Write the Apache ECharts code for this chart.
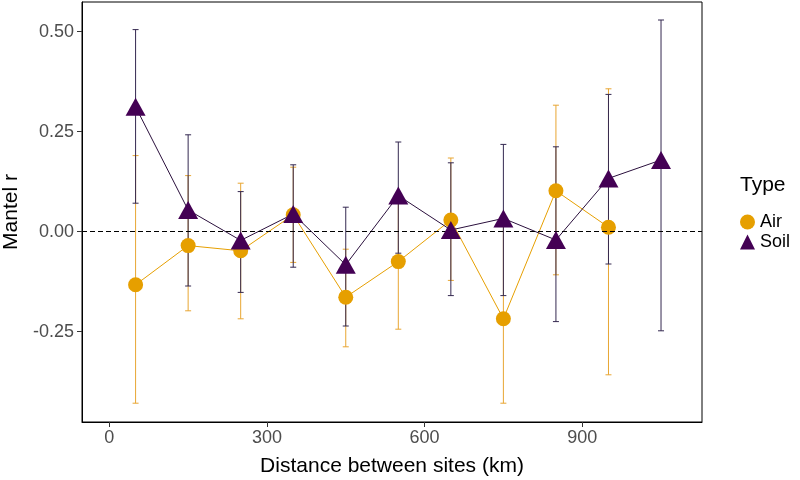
<!DOCTYPE html>
<html>
<head>
<meta charset="utf-8">
<script src="https://cdn.jsdelivr.net/npm/echarts@6/dist/echarts.min.js"></script>
<style>
  html, body { margin: 0; padding: 0; background: #fff; }
  #chart { width: 800px; height: 480px; }
</style>
</head>
<body>
<div id="chart"></div>
<script>
// distance classes (km), bin midpoints
const distance = [50, 150, 250, 350, 450, 550, 650, 750, 850, 950, 1050]

// Air: Mantel r and confidence limits (no value for the last bin)
const airR = [-0.133, -0.035, -0.048, 0.042, -0.164, -0.075, 0.029, -0.218, 0.102, 0.011]
const airLow = [-0.429, -0.198, -0.218, -0.077, -0.288, -0.244, -0.122, -0.429, -0.108, -0.358]
const airHigh = [0.19, 0.14, 0.121, 0.161, -0.044, 0.081, 0.184, 0.03, 0.316, 0.357]

// Soil
const soilR = [0.312, 0.054, -0.022, 0.044, -0.083, 0.09, 0.004, 0.033, -0.021, 0.133, 0.179]
const soilLow = [0.071, -0.136, -0.152, -0.089, -0.236, -0.054, -0.16, -0.16, -0.225, -0.081, -0.248]
const soilHigh = [0.505, 0.242, 0.1, 0.167, 0.061, 0.224, 0.172, 0.218, 0.212, 0.343, 0.529]

const xTicks = [0, 300, 600, 900]
const yTicks = [-0.25, 0, 0.25, 0.5]

const airColor = '#E69F00'
const soilColor = '#440154'
const font = 'Liberation Sans, Arial, sans-serif'

function pairs(values) {
  return values.map((v, i) => [distance[i], v])
}

function errorBars(name, low, high, color) {
  return {
    name: name,
    type: 'custom',
    z: 2,
    silent: true,
    data: low.map((l, i) => [distance[i], l, high[i]]),
    renderItem(params, api) {
      const x = api.value(0)
      const p1 = api.coord([x, api.value(1)])
      const p2 = api.coord([x, api.value(2)])
      const cap = 3
      const style = { stroke: color, lineWidth: 1 }
      return {
        type: 'group',
        children: [
          { type: 'line', shape: { x1: p1[0], y1: p1[1], x2: p2[0], y2: p2[1] }, style },
          { type: 'line', shape: { x1: p1[0] - cap, y1: p1[1], x2: p1[0] + cap, y2: p1[1] }, style },
          { type: 'line', shape: { x1: p2[0] - cap, y1: p2[1], x2: p2[0] + cap, y2: p2[1] }, style }
        ]
      }
    }
  }
}

const chart = echarts.init(document.getElementById('chart'), null, { renderer: 'canvas' })

chart.setOption({
  animation: false,
  textStyle: { fontFamily: font },
  grid: {
    left: 82,
    right: 98,
    top: 2,
    bottom: 58,
    show: true,
    borderColor: '#000',
    borderWidth: 1,
    containLabel: false,
    outerBoundsMode: 'none'
  },
  graphic: [{
    type: 'text',
    left: 740,
    top: 175,
    style: { text: 'Type', font: '21px ' + font, fill: '#000' }
  }],
  legend: {
    data: ['Air', 'Soil'],
    orient: 'vertical',
    left: 740,
    top: 213,
    padding: 0,
    itemGap: 2,
    itemWidth: 15,
    itemHeight: 15,
    textStyle: { fontSize: 18, color: '#000', fontFamily: font }
  },
  xAxis: {
    type: 'value',
    min: -52,
    max: 1128,
    name: 'Distance between sites (km)',
    nameLocation: 'middle',
    nameGap: 34,
    nameTextStyle: { fontSize: 21, color: '#000' },
    axisLine: { onZero: false, lineStyle: { color: '#000', width: 1 } },
    axisTick: { customValues: xTicks, length: 5, lineStyle: { color: '#333' } },
    axisLabel: { customValues: xTicks, fontSize: 18, color: '#4d4d4d', margin: 7 },
    splitLine: { show: false }
  },
  yAxis: {
    type: 'value',
    min: -0.476,
    max: 0.574,
    name: 'Mantel r',
    nameLocation: 'middle',
    nameGap: 60,
    nameTextStyle: { fontSize: 21, color: '#000' },
    axisLine: { onZero: false, lineStyle: { color: '#000', width: 1 } },
    axisTick: { customValues: yTicks, length: 5, lineStyle: { color: '#333' } },
    axisLabel: {
      customValues: yTicks,
      fontSize: 18,
      color: '#4d4d4d',
      margin: 8,
      formatter: v => v.toFixed(2)
    },
    splitLine: { show: false }
  },
  series: [
    errorBars('airErr', airLow, airHigh, '#E8A632'),
    errorBars('soilErr', soilLow, soilHigh, '#342850'),
    {
      name: 'airLine',
      type: 'line',
      z: 3,
      silent: true,
      showSymbol: false,
      data: pairs(airR),
      lineStyle: { color: airColor, width: 1 }
    },
    {
      name: 'soilLine',
      type: 'line',
      z: 3,
      silent: true,
      showSymbol: false,
      data: pairs(soilR),
      lineStyle: { color: '#2a0f3c', width: 1 },
      markLine: {
        silent: true,
        symbol: 'none',
        label: { show: false },
        lineStyle: { color: '#000', type: [5, 3], width: 1 },
        data: [{ yAxis: 0 }]
      }
    },
    {
      name: 'Air',
      type: 'scatter',
      z: 4,
      symbol: 'circle',
      symbolSize: 15,
      itemStyle: { color: airColor, opacity: 1 },
      data: pairs(airR)
    },
    {
      name: 'Soil',
      type: 'scatter',
      z: 5,
      symbol: 'triangle',
      symbolSize: [20, 18],
      itemStyle: { color: soilColor, opacity: 1 },
      data: pairs(soilR)
    }
  ]
})
</script>
</body>
</html>
